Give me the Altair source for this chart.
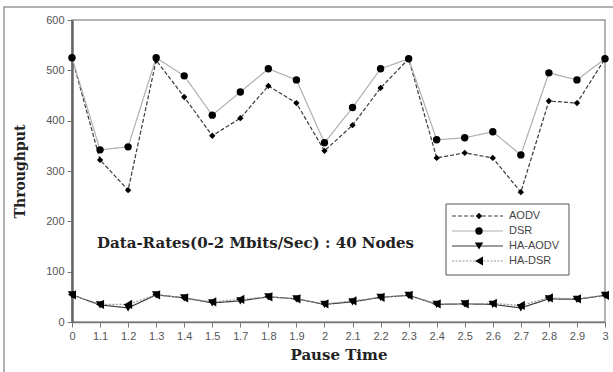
import altair as alt
import pandas as pd

# Pause time categories along the x axis
pause_times = ["0", "1.1", "1.2", "1.3", "1.4", "1.5", "1.7", "1.8", "1.9", "2",
               "2.1", "2.2", "2.3", "2.4", "2.5", "2.6", "2.7", "2.8", "2.9", "3"]

# Throughput per protocol
aodv = [525, 322, 262, 520, 447, 370, 405, 469, 435, 340,
        391, 465, 523, 326, 336, 326, 258, 439, 435, 523]
dsr = [525, 342, 348, 525, 489, 411, 457, 503, 481, 356,
       426, 503, 523, 362, 366, 378, 332, 495, 481, 523]
ha_aodv = [54, 34, 28, 54, 48, 38, 42, 50, 46, 35,
           40, 49, 53, 35, 36, 35, 28, 46, 45, 53]
ha_dsr = [54, 35, 35, 54, 48, 40, 45, 50, 46, 36,
          42, 49, 53, 36, 36, 37, 33, 48, 46, 53]

series_names = ["AODV", "DSR", "HA-AODV", "HA-DSR"]
series_values = [aodv, dsr, ha_aodv, ha_dsr]

rows = []
for name, vals in zip(series_names, series_values):
    for t, v in zip(pause_times, vals):
        rows.append({"pause": t, "throughput": v, "protocol": name})
df = pd.DataFrame(rows)

legend_df = pd.DataFrame({"protocol": series_names})

line_colors = ["#3a3a3a", "#b0b0b0", "#3a3a3a", "#9a9a9a"]
dashes = [[4, 2], [1, 0], [1, 0], [2, 1.5]]
shapes = ["diamond", "circle", "triangle-down", "triangle-left"]
sizes = [40, 85, 55, 55]

color_scale = alt.Scale(domain=series_names, range=line_colors)
dash_scale = alt.Scale(domain=series_names, range=dashes)
shape_scale = alt.Scale(domain=series_names, range=shapes)
size_scale = alt.Scale(domain=series_names, range=sizes)

x_enc = alt.X("pause:O", sort=pause_times,
              scale=alt.Scale(type="point", padding=0),
              axis=alt.Axis(title="Pause Time", labelAngle=0, tickSize=5,
                            labelPadding=3, titlePadding=6, titleFontSize=15))
y_enc = alt.Y("throughput:Q", scale=alt.Scale(domain=[0, 600], nice=False),
              axis=alt.Axis(title="Throughput", values=[0, 100, 200, 300, 400, 500, 600],
                            tickSize=5, grid=False, labelPadding=3, titlePadding=18))

lines = alt.Chart(df).mark_line(strokeWidth=1.2).encode(
    x=x_enc, y=y_enc,
    color=alt.Color("protocol:N", scale=color_scale, legend=None),
    strokeDash=alt.StrokeDash("protocol:N", scale=dash_scale, legend=None),
    detail="protocol:N",
)

points = alt.Chart(df).mark_point(filled=True, color="black", opacity=1).encode(
    x=x_enc, y=y_enc,
    shape=alt.Shape("protocol:N", scale=shape_scale, legend=None),
    size=alt.Size("protocol:N", scale=size_scale, legend=None),
)

annotation = alt.Chart(pd.DataFrame({"t": ["Data-Rates(0-2 Mbits/Sec) : 40 Nodes"]})).mark_text(
    align="left", baseline="middle", font="DejaVu Serif", fontWeight="bold",
    fontSize=15, color="#222"
).encode(x=alt.value(25), y=alt.value(223), text="t:N")

main = alt.layer(lines, points, annotation)

# Legend box drawn in pixel space, entries spaced by a point scale
legend_y = alt.Y("protocol:N", sort=series_names,
                 scale=alt.Scale(type="point", domain=series_names,
                                 range=[196, 241], padding=0),
                 axis=None)

legend_box = alt.Chart(pd.DataFrame({"k": [0]})).mark_rect(
    fill="white", stroke="#555", strokeWidth=1
).encode(x=alt.value(374), x2=alt.value(497), y=alt.value(184), y2=alt.value(255))

legend_lines = alt.Chart(legend_df).mark_rule(strokeWidth=1.2).encode(
    x=alt.value(380), x2=alt.value(431), y=legend_y,
    color=alt.Color("protocol:N", scale=color_scale, legend=None),
    strokeDash=alt.StrokeDash("protocol:N", scale=dash_scale, legend=None),
)
legend_points = alt.Chart(legend_df).mark_point(filled=True, color="black", opacity=1).encode(
    x=alt.value(407), y=legend_y,
    shape=alt.Shape("protocol:N", scale=shape_scale, legend=None),
    size=alt.Size("protocol:N", scale=size_scale, legend=None),
)
legend_text = alt.Chart(legend_df).mark_text(
    align="left", baseline="middle", font="Liberation Sans", fontSize=11,
    color="#444"
).encode(x=alt.value(437), y=legend_y, text="protocol:N")

legend = alt.layer(legend_box, legend_lines, legend_points, legend_text)

# Outer frame around the whole figure
frame = alt.Chart(pd.DataFrame({"k": [0]})).mark_rect(
    fill=None, stroke="#999", strokeWidth=1.5, clip=False
).encode(x=alt.value(-68), x2=alt.value(560), y=alt.value(-13), y2=alt.value(380))

chart = alt.layer(frame, main, legend).resolve_scale(
    y="independent"
).properties(
    width=533, height=302,
    autosize=alt.AutoSizeParams(type="none"),
    padding={"left": 72, "top": 20, "right": 8, "bottom": 50},
    background="white",
).configure_view(
    stroke="#9a9a9a", strokeWidth=1.5
).configure_axis(
    labelFont="Liberation Sans", labelFontSize=11, labelColor="#555",
    titleFont="DejaVu Serif", titleFontSize=14, titleFontWeight="bold",
    titleColor="#222", tickColor="#777", domainColor="#777",
).configure_axisY(
    domainWidth=2.5, domainColor="#666"
).configure_axisX(
    domainWidth=1.5
)

chart.save("out.html", embed_options={"renderer": "svg", "actions": False})
